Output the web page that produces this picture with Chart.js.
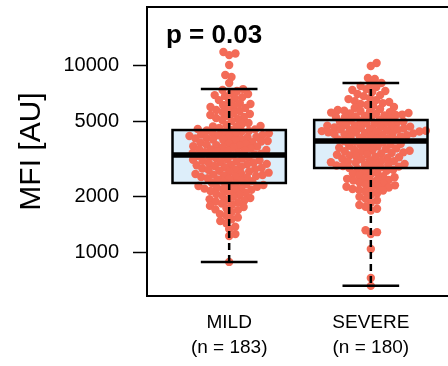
<!DOCTYPE html>
<html>
<head>
<meta charset="utf-8">
<script src="https://cdn.jsdelivr.net/npm/chart.js@4.4.1/dist/chart.umd.min.js"></script>
<style>
  html, body { margin: 0; padding: 0; background: #fff; overflow: hidden; }
  #wrap { width: 460px; height: 366px; }
</style>
</head>
<body>
<div id="wrap"><canvas id="myChart" width="460" height="366"></canvas></div>
<script>
const groupNames = ["MILD", "SEVERE"];
const groupCounts = [183, 180];
const yTicks = [1000, 2000, 5000, 10000];
const pValue = "p = 0.03";

const mildValues = [
  11730, 11530, 11300, 10000, 8850, 8640, 8020,
  7450, 7360, 7270, 7100, 7010,
  6920, 6836, 6753, 6670, 6510, 6430, 6275, 6200,
  6130, 6055, 5980, 5910, 5835, 5760, 5690, 5620, 5555, 5485,
  5420, 5355, 5290, 5225, 5160, 5100, 5035, 4915, 4855,
  4800, 4745, 4715, 4685, 4625, 4570, 4545,
  4510, 4490, 4455, 4435, 4400, 4350, 4330, 4295, 4270,
  4245, 4225, 4190, 4170, 4140, 4120, 4090, 4070, 4040, 4015,
  3990, 3970, 3940, 3915, 3890, 3865, 3840, 3800, 3770,
  3750, 3725, 3700, 3680, 3655, 3630, 3600, 3570, 3550,
  3530, 3510, 3485, 3465, 3440, 3420, 3395, 3370, 3345,
  3320, 3300, 3275, 3250, 3225, 3200, 3180, 3150, 3130,
  3110, 3090, 3065, 3040, 3020, 3000, 2980, 2960, 2945,
  2930, 2905, 2880, 2860, 2840, 2815, 2795, 2775,
  2760, 2740, 2715, 2695, 2675, 2655, 2630, 2610,
  2600, 2585, 2570, 2550, 2535, 2520, 2500, 2480, 2460, 2440, 2410, 2385,
  2355, 2340, 2320, 2300, 2290, 2270, 2250, 2235, 2215, 2200, 2185, 2170,
  2160, 2135, 2110, 2085, 2060, 2035, 2010, 1990, 1960, 1930, 1915,
  1900, 1880, 1855, 1830, 1805, 1780, 1755, 1730, 1705,
  1690, 1650, 1610, 1580, 1545, 1510,
  1480, 1440, 1380, 1340,
  1260, 1230,
  896
];

const severeValues = [
  10250, 9880, 8530, 8425,
  8020, 7930, 7735, 7640, 7450,
  7360, 7270, 7185, 7010, 6920, 6836, 6670, 6590,
  6510, 6430, 6355, 6275, 6200, 6130, 6055, 5980, 5910, 5835,
  5760, 5720, 5690, 5655, 5620, 5585, 5555, 5520, 5485, 5450, 5420, 5385, 5355, 5320, 5290, 5255, 5225, 5160,
  5100, 5070, 5035, 5005, 4975, 4945, 4915, 4885, 4855,
  4800, 4775, 4750, 4725, 4700, 4675, 4650, 4625, 4600, 4575, 4550, 4530,
  4510, 4490, 4470, 4450, 4430, 4410, 4390, 4370, 4350, 4330, 4310, 4290, 4270, 4250,
  4230, 4200, 4170, 4140, 4110, 4080, 4050, 4020, 3990, 3960,
  3930, 3900, 3870, 3840, 3810, 3780, 3750, 3720, 3690, 3660, 3630, 3600, 3570, 3540,
  3520, 3500, 3480, 3455, 3430, 3405, 3380, 3355, 3330, 3305, 3280, 3255, 3230, 3205, 3180, 3150,
  3120, 3100, 3080, 3060, 3040, 3020, 3000, 2980, 2960, 2940, 2920, 2900, 2880, 2860, 2840,
  2830, 2800, 2770, 2740, 2710, 2680, 2650, 2620, 2590, 2560, 2530, 2500, 2480, 2460, 2445,
  2430, 2400, 2370, 2340, 2310, 2290, 2270, 2250, 2230, 2210, 2190, 2170, 2150, 2130,
  2080, 2040, 1990, 1940,
  1900, 1850, 1800, 1760, 1720, 1680,
  1320, 1290, 1260,
  1050, 735, 668
];

// box summaries
const boxQ1 = [2357, 2832];
const boxMedian = [3320, 3940];
const boxQ3 = [4510, 5100];
const whiskerLow = [896, 668];
const whiskerHigh = [7450, 8020];

const pointColor = "#F36B57";
const boxFill = "#DDEEFA";
const boxWidth = 0.8;
const capWidth = 0.4;
const fontFamily = "'Liberation Sans', Arial, sans-serif";

function swarm(ys, d) {
  const order = ys.map((y, i) => i).sort((a, b) => ys[b] - ys[a]);
  const placed = [];
  const xs = new Array(ys.length);
  order.forEach((i) => {
    const y = ys[i];
    const near = placed.filter((p) => Math.abs(p.y - y) < d);
    const cands = [0];
    near.forEach((p) => {
      const dx = Math.sqrt(d * d - (p.y - y) * (p.y - y));
      cands.push(p.x + dx, p.x - dx);
    });
    cands.sort((a, b) => Math.abs(a) - Math.abs(b));
    const x = cands.find((c) =>
      near.every((p) => (p.x - c) * (p.x - c) + (p.y - y) * (p.y - y) >= d * d - 0.01)
    );
    xs[i] = x;
    placed.push({ x: x, y: y });
  });
  return xs;
}

const boxPlugin = {
  id: "boxes",
  beforeDatasetsDraw(chart) {
    const { ctx, scales } = chart;
    const xs = scales.x;
    const ys = scales.y;
    ctx.save();
    groupNames.forEach((g, i) => {
      const x0 = xs.getPixelForValue(i + 1 - boxWidth / 2);
      const x1 = xs.getPixelForValue(i + 1 + boxWidth / 2);
      const yTop = ys.getPixelForValue(boxQ3[i]);
      const yBot = ys.getPixelForValue(boxQ1[i]);
      ctx.fillStyle = boxFill;
      ctx.fillRect(x0, yTop, x1 - x0, yBot - yTop);
    });
    ctx.restore();
  },
  afterDatasetsDraw(chart) {
    const { ctx, scales } = chart;
    const xs = scales.x;
    const ys = scales.y;
    ctx.save();
    ctx.strokeStyle = "#000";
    groupNames.forEach((g, i) => {
      const cx = xs.getPixelForValue(i + 1);
      const x0 = xs.getPixelForValue(i + 1 - boxWidth / 2);
      const x1 = xs.getPixelForValue(i + 1 + boxWidth / 2);
      const c0 = xs.getPixelForValue(i + 1 - capWidth / 2);
      const c1 = xs.getPixelForValue(i + 1 + capWidth / 2);
      const yTop = ys.getPixelForValue(boxQ3[i]);
      const yBot = ys.getPixelForValue(boxQ1[i]);
      const yMed = ys.getPixelForValue(boxMedian[i]);
      const yHi = ys.getPixelForValue(whiskerHigh[i]);
      const yLo = ys.getPixelForValue(whiskerLow[i]);

      ctx.lineWidth = 2.5;
      ctx.setLineDash([7, 5]);
      ctx.beginPath();
      ctx.moveTo(cx, yTop);
      ctx.lineTo(cx, yHi);
      ctx.moveTo(cx, yBot);
      ctx.lineTo(cx, yLo);
      ctx.stroke();
      ctx.setLineDash([]);

      ctx.beginPath();
      ctx.moveTo(c0, yHi);
      ctx.lineTo(c1, yHi);
      ctx.moveTo(c0, yLo);
      ctx.lineTo(c1, yLo);
      ctx.stroke();

      ctx.strokeRect(x0, yTop, x1 - x0, yBot - yTop);

      ctx.lineWidth = 5.5;
      ctx.beginPath();
      ctx.moveTo(x0, yMed);
      ctx.lineTo(x1, yMed);
      ctx.stroke();
    });
    ctx.restore();
  },
  afterDraw(chart) {
    const { ctx, chartArea } = chart;
    ctx.save();
    ctx.strokeStyle = "#000";
    ctx.lineWidth = 2;
    ctx.strokeRect(chartArea.left, chartArea.top, chartArea.right - chartArea.left, chartArea.bottom - chartArea.top);
    ctx.fillStyle = "#000";
    ctx.font = "bold 26px " + fontFamily;
    ctx.textAlign = "left";
    ctx.fillText(pValue, chartArea.left + 19, chartArea.top + 36);
    ctx.restore();
  },
};

const ctx = document.querySelector("#myChart").getContext("2d");
const chart = new Chart(ctx, {
  type: "scatter",
  data: {
    datasets: [mildValues, severeValues].map((vals, i) => ({
      data: vals.map((v) => ({ x: i + 1, y: v })),
      backgroundColor: pointColor,
      borderWidth: 0,
      pointRadius: 4.2,
    })),
  },
  options: {
    responsive: false,
    animation: false,
    events: [],
    layout: { padding: { top: 7, right: 7, left: 0, bottom: 0 } },
    plugins: {
      legend: { display: false },
      tooltip: { enabled: false },
    },
    scales: {
      x: {
        type: "linear",
        min: 0.42,
        max: 2.58,
        afterBuildTicks: (scale) => {
          scale.ticks = groupNames.map((g, i) => ({ value: i + 1 }));
        },
        afterFit: (scale) => {
          scale.height = 70;
          scale.paddingLeft = 0;
          scale.paddingRight = 0;
        },
        ticks: {
          autoSkip: false,
          maxRotation: 0,
          padding: 14,
          color: "#000",
          font: { family: fontFamily, size: 19, lineHeight: 1.32 },
          callback: (v) => [groupNames[v - 1], "(n = " + groupCounts[v - 1] + ")"],
        },
        grid: { display: false, drawTicks: false },
        border: { display: false },
      },
      y: {
        type: "logarithmic",
        min: 590,
        max: 20370,
        afterBuildTicks: (scale) => {
          scale.ticks = yTicks.map((v) => ({ value: v }));
        },
        afterFit: (scale) => {
          scale.width = 147;
          scale.paddingTop = 0;
          scale.paddingBottom = 0;
        },
        ticks: {
          autoSkip: false,
          padding: 14,
          color: "#000",
          font: { family: fontFamily, size: 20 },
          callback: (v) => String(v),
        },
        grid: {
          drawOnChartArea: false,
          drawTicks: true,
          tickLength: 14,
          tickColor: "#000",
          tickWidth: 1.5,
        },
        border: { display: false },
        title: {
          display: true,
          text: "MFI [AU]",
          color: "#000",
          font: { family: fontFamily, size: 30, lineHeight: 1.2 },
          padding: { top: 14, bottom: 0 },
        },
      },
    },
  },
  plugins: [boxPlugin],
});

const xScale = chart.scales.x;
const yScale = chart.scales.y;
const unitPx = xScale.getPixelForValue(2) - xScale.getPixelForValue(1);
chart.data.datasets.forEach((ds, i) => {
  const vals = i === 0 ? mildValues : severeValues;
  const offs = swarm(vals.map((v) => yScale.getPixelForValue(v)), 6.5);
  ds.data = vals.map((v, j) => ({ x: i + 1 + offs[j] / unitPx, y: v }));
});
chart.update("none");
</script>
</body>
</html>
